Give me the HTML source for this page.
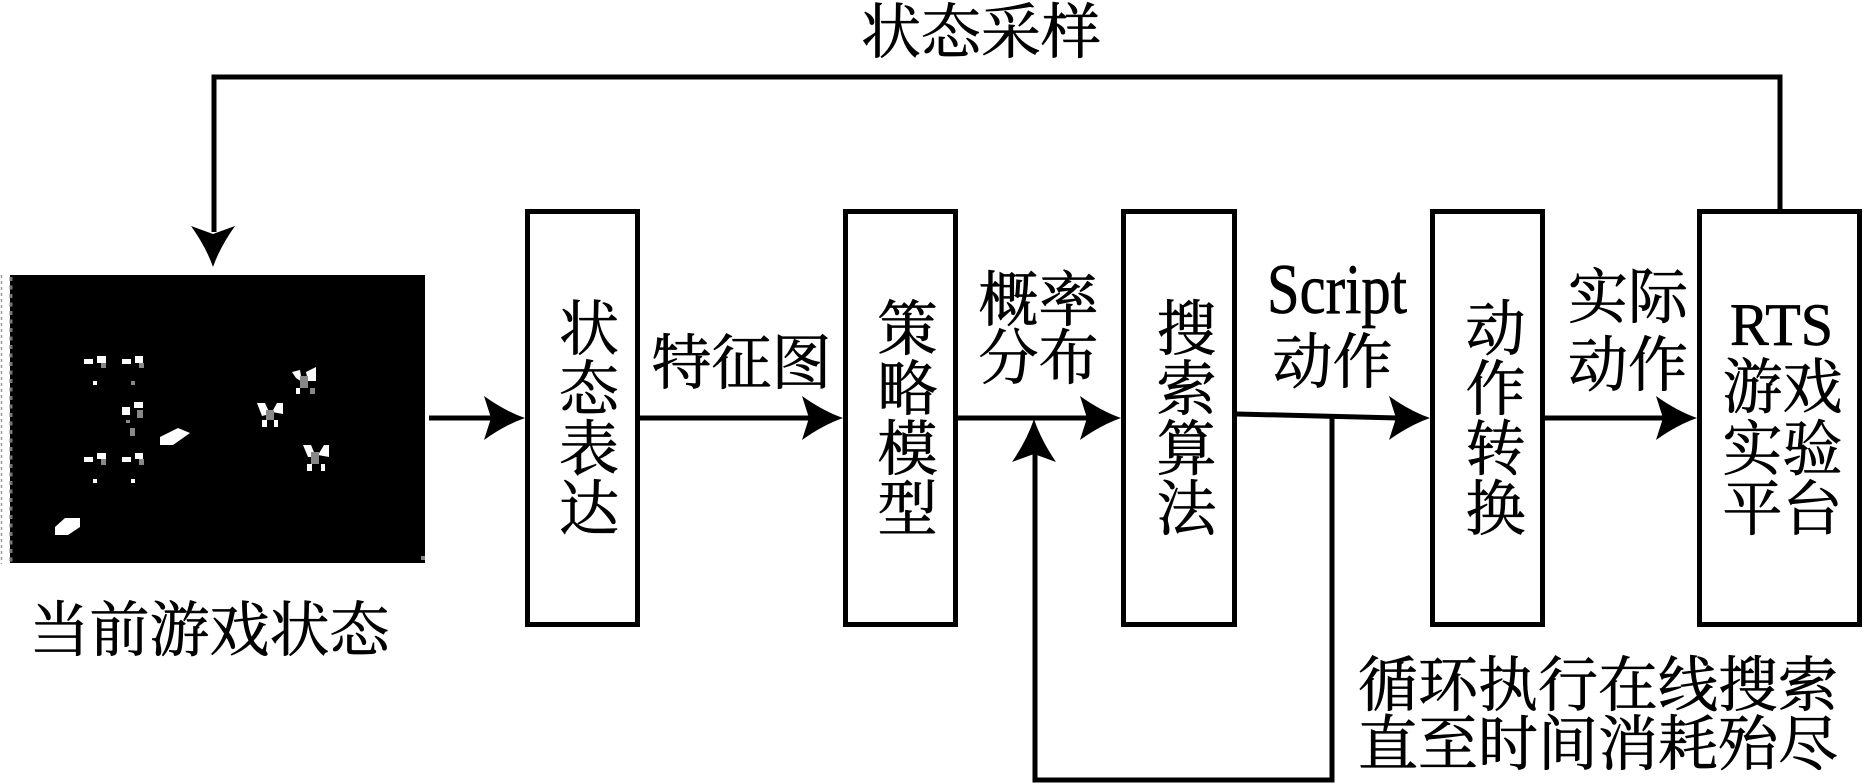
<!DOCTYPE html>
<html>
<head>
<meta charset="utf-8">
<style>
  html,body{margin:0;padding:0;background:#fff;}
  body{width:1863px;height:784px;overflow:hidden;}
  svg{display:block;}
  .t{font-family:"Liberation Serif","Noto Serif CJK SC",serif;font-size:60px;fill:#000;stroke:#000;stroke-width:0.7px;}
</style>
</head>
<body>
<svg width="1863" height="784" viewBox="0 0 1863 784" xmlns="http://www.w3.org/2000/svg">
  <defs>
    <path id="arR" d="M0,0 Q-20,-7 -41,-22 L-34,0 L-41,22 Q-20,7 0,0 Z" fill="#000"/>
  </defs>

  <!-- top feedback line -->
  <polyline points="214,232 214,77 1780,77 1780,212" fill="none" stroke="#000" stroke-width="5"/>
  <!-- down arrowhead -->
  <path d="M213,267 Q206,247 191,226 L213,234 L235,226 Q220,247 213,267 Z" fill="#000"/>

  <!-- game state image -->
  <line x1="1.5" y1="275" x2="1.5" y2="564" stroke="#999" stroke-width="1.5" stroke-dasharray="3,3"/>
  <rect x="10" y="275" width="415" height="288" fill="#000"/>
  <line x1="11" y1="277" x2="11" y2="563" stroke="#777" stroke-width="3" stroke-dasharray="4,4.5"/>
  <g fill="#fff">
    <rect x="84" y="359" width="9" height="5"/><rect x="97" y="356" width="9" height="7"/>
    <rect x="93" y="381" width="4" height="4"/>
    <rect x="122" y="359" width="9" height="5"/><rect x="135" y="356" width="8" height="7"/>
    <rect x="122" y="407" width="8" height="8"/><rect x="134" y="402" width="9" height="6"/>
    <rect x="84" y="457" width="9" height="5"/><rect x="97" y="453" width="9" height="6"/>
    <rect x="93" y="479" width="4" height="4"/>
    <rect x="122" y="457" width="9" height="5"/><rect x="135" y="453" width="8" height="6"/>
    <rect x="131" y="479" width="4" height="4"/>
    <polygon points="160,437 178,428 190,433 173,445 160,445"/>
    <polygon points="55,527 65,518 80,518 80,527 68,535 55,535"/>
    <polygon points="292,372 300,370 302,382 296,378"/><polygon points="306,372 316,367 316,381 308,381"/>
    <rect x="296" y="388" width="4" height="6"/>
    <polygon points="257,403 265,403 270,414 262,416"/><polygon points="272,412 277,403 283,403 283,414"/>
    <rect x="262" y="420" width="5" height="7"/><rect x="274" y="420" width="4" height="7"/>
    <polygon points="303,445 311,445 316,457 308,457"/><polygon points="318,455 324,445 329,445 329,457"/>
    <rect x="307" y="464" width="5" height="7"/><rect x="321" y="464" width="4" height="7"/>
  </g>
  <g fill="#888">
    <rect x="101" y="363" width="5" height="5"/><rect x="139" y="363" width="5" height="5"/>
    <rect x="131" y="381" width="4" height="4"/>
    <rect x="137" y="410" width="6" height="8"/><rect x="126" y="420" width="4" height="3"/><rect x="130" y="428" width="5" height="8"/>
    <rect x="101" y="459" width="5" height="6"/><rect x="139" y="459" width="5" height="6"/>
    <rect x="300" y="376" width="8" height="12"/><rect x="310" y="388" width="5" height="6"/>
    <rect x="266" y="410" width="8" height="10"/>
    <rect x="311" y="452" width="8" height="12"/>
    <rect x="421" y="556" width="4" height="4"/>
  </g>

  <!-- boxes -->
  <g fill="none" stroke="#000" stroke-width="5">
    <rect x="527.5" y="211.5" width="110" height="413"/>
    <rect x="845.5" y="211.5" width="110" height="413"/>
    <rect x="1123.5" y="211.5" width="111" height="413"/>
    <rect x="1432.5" y="211.5" width="110" height="413"/>
    <rect x="1699.5" y="211.5" width="160" height="413"/>
  </g>

  <!-- main arrows -->
  <g stroke="#000" stroke-width="5" fill="none">
    <line x1="429" y1="418" x2="495" y2="418"/>
    <line x1="640" y1="418" x2="812" y2="418"/>
    <line x1="958" y1="418" x2="1090" y2="418"/>
    <line x1="1237" y1="414" x2="1400" y2="418"/>
    <line x1="1545" y1="418" x2="1665" y2="418"/>
    <polyline points="1332,416 1332,780 1035,780 1035,452"/>
  </g>
  <use href="#arR" x="525" y="418"/>
  <use href="#arR" x="843" y="418"/>
  <use href="#arR" x="1121" y="418"/>
  <use href="#arR" x="1430" y="418"/>
  <use href="#arR" x="1697" y="418"/>
  <path d="M1034,419 Q1027,440 1012,462 L1034,454 L1056,462 Q1041,440 1034,419 Z" fill="#000"/>

  <!-- labels -->
  <text class="t" x="981" y="53" text-anchor="middle">状态采样</text>
  <text class="t" x="209.5" y="651" text-anchor="middle">当前游戏状态</text>
  <text class="t" x="741.5" y="384" text-anchor="middle">特征图</text>
  <text class="t" x="1038.5" y="321" text-anchor="middle">概率</text>
  <text class="t" x="1038.5" y="379" text-anchor="middle">分布</text>
  <text class="t" x="1267" y="313" style="font-size:71px" textLength="140" lengthAdjust="spacingAndGlyphs">Script</text>
  <text class="t" x="1332.5" y="383" text-anchor="middle">动作</text>
  <text class="t" x="1628" y="318" text-anchor="middle">实际</text>
  <text class="t" x="1628" y="386" text-anchor="middle">动作</text>

  <!-- box texts -->
  <text class="t" x="589" y="350" text-anchor="middle">状</text>
  <text class="t" x="589" y="410" text-anchor="middle">态</text>
  <text class="t" x="589" y="470" text-anchor="middle">表</text>
  <text class="t" x="589" y="530" text-anchor="middle">达</text>

  <text class="t" x="907.5" y="350" text-anchor="middle">策</text>
  <text class="t" x="907.5" y="410" text-anchor="middle">略</text>
  <text class="t" x="907.5" y="470" text-anchor="middle">模</text>
  <text class="t" x="907.5" y="530" text-anchor="middle">型</text>

  <text class="t" x="1186.5" y="350" text-anchor="middle">搜</text>
  <text class="t" x="1186.5" y="410" text-anchor="middle">索</text>
  <text class="t" x="1186.5" y="470" text-anchor="middle">算</text>
  <text class="t" x="1186.5" y="530" text-anchor="middle">法</text>

  <text class="t" x="1495.5" y="350" text-anchor="middle">动</text>
  <text class="t" x="1495.5" y="410" text-anchor="middle">作</text>
  <text class="t" x="1495.5" y="470" text-anchor="middle">转</text>
  <text class="t" x="1495.5" y="530" text-anchor="middle">换</text>

  <text class="t" x="1730" y="345" textLength="103" lengthAdjust="spacingAndGlyphs">RTS</text>
  <text class="t" x="1782.5" y="408" text-anchor="middle">游戏</text>
  <text class="t" x="1782.5" y="470" text-anchor="middle">实验</text>
  <text class="t" x="1782.5" y="530" text-anchor="middle">平台</text>

  <text class="t" x="1598" y="706" text-anchor="middle">循环执行在线搜索</text>
  <text class="t" x="1598" y="765" text-anchor="middle">直至时间消耗殆尽</text>
</svg>
</body>
</html>
